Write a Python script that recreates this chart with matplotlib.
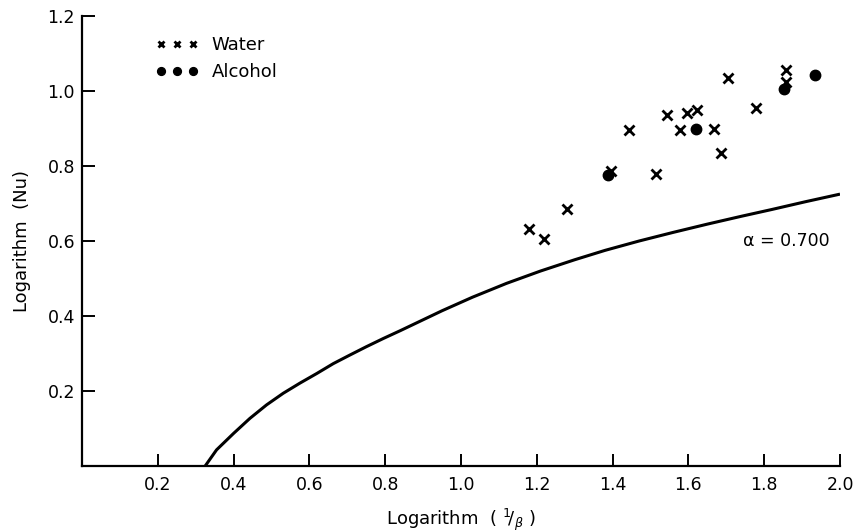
import matplotlib
matplotlib.use("Agg")
import matplotlib.pyplot as plt

# Data
water_x = [1.180, 1.219, 1.279, 1.395, 1.442, 1.515, 1.544, 1.578, 1.597, 1.624,
           1.668, 1.687, 1.704, 1.779, 1.857, 1.857]
water_y = [0.632, 0.606, 0.686, 0.787, 0.895, 0.779, 0.935, 0.895, 0.941, 0.949,
           0.898, 0.835, 1.035, 0.955, 1.055, 1.025]

alcohol_x = [1.389, 1.620, 1.853, 1.934]
alcohol_y = [0.776, 0.899, 1.005, 1.042]

curve_x = [0.325, 0.355, 0.400, 0.443, 0.487, 0.531, 0.575, 0.620, 0.663, 0.707,
           0.750, 0.795, 0.840, 0.950, 1.030, 1.120, 1.210, 1.300, 1.380, 1.470,
           1.560, 1.650, 1.740, 1.820, 1.910, 2.000]
curve_y = [0.000, 0.043, 0.087, 0.127, 0.163, 0.194, 0.221, 0.247, 0.273, 0.296,
           0.318, 0.340, 0.361, 0.414, 0.450, 0.487, 0.520, 0.550, 0.575, 0.600,
           0.623, 0.645, 0.666, 0.684, 0.705, 0.725]

xticks = [0.2, 0.4, 0.6, 0.8, 1.0, 1.2, 1.4, 1.6, 1.8, 2.0]
xticklabels = ["0.2", "0.4", "0.6", "0.8", "1.0", "1.2", "1.4", "1.6", "1.8", "2.0"]
yticks = [0.2, 0.4, 0.6, 0.8, 1.0, 1.2]
yticklabels = ["0.2", "0.4", "0.6", "0.8", "1.0", "1.2"]

curve_label = "\u03b1 = 0.700"

plt.rcParams['font.family'] = ['DejaVu Sans']
plt.rcParams['mathtext.fontset'] = 'dejavusans'

fig = plt.figure(figsize=(8.56, 5.32), dpi=100)
ax = fig.add_axes([82 / 856, (532 - 466) / 532, 758 / 856, 450 / 532])

ax.plot(curve_x, curve_y, color='black', lw=2.2, solid_capstyle='butt',
        solid_joinstyle='round')
ax.plot(water_x, water_y, linestyle='none', marker='x', color='black',
        markersize=6.5, markeredgewidth=2.0, label='Water')
ax.plot(alcohol_x, alcohol_y, linestyle='none', marker='o', color='black',
        markersize=7.5, label='Alcohol')

ax.text(1.745, 0.600, curve_label, fontsize=12.5, va='center', ha='left')

ax.set_xlim(0, 2.0)
ax.set_ylim(0, 1.2)
ax.set_xticks(xticks)
ax.set_xticklabels(xticklabels)
ax.set_yticks(yticks)
ax.set_yticklabels(yticklabels)

for s in ['top', 'right']:
    ax.spines[s].set_visible(False)
for s in ['left', 'bottom']:
    ax.spines[s].set_linewidth(1.6)

ax.tick_params(axis='both', direction='in', length=9, width=1.4, labelsize=12.5)
ax.tick_params(axis='x', pad=7)
ax.tick_params(axis='y', pad=5)

ax.set_xlabel(r"Logarithm  ( $^{1}\!/_{\beta}$ )", fontsize=13, labelpad=9)
ax.set_ylabel("Logarithm  (Nu)", fontsize=13, labelpad=12)

leg = ax.legend(loc='upper left', bbox_to_anchor=(0.085, 0.975), frameon=False,
                numpoints=3, markerscale=0.75, handlelength=2.4,
                handletextpad=0.7, labelspacing=0.5, fontsize=13, borderpad=0)

fig.savefig("out.png", dpi=100)
